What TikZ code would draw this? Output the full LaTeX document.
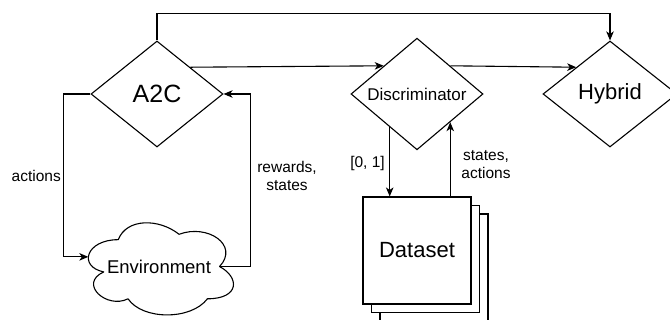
\documentclass[tikz,border=0pt]{standalone}
\usepackage{fontspec}
\setmainfont{Liberation Sans}
\usetikzlibrary{shapes.geometric,arrows.meta,calc}

\tikzset{
  shapeline/.style={draw=black, line width=1.1pt, line join=miter},
  decision/.style={diamond, shapeline, fill=white, inner sep=0pt,
                   minimum width=132pt, minimum height=106pt},
  sheet/.style={rectangle, shapeline, fill=white, inner sep=0pt,
                minimum width=108pt, minimum height=107pt},
  arr/.style={draw=black, line width=1.1pt,
              -{Stealth[length=9pt, width=7.5pt, inset=2.5pt]}},
  link/.style={draw=black, line width=1.1pt},
  lbl/.style={inner sep=0pt, font=\fontsize{15.5}{18}\selectfont, align=center}
}

\begin{document}
\begin{tikzpicture}[x=1pt, y=1pt]
\useasboundingbox (0,0) rectangle (670,320);

% decision nodes
\node[decision, font=\fontsize{25}{30}\selectfont] (A2C) at (157,226) {A2C};
\node[decision, font=\fontsize{17}{20}\selectfont] (Disc) at (417,226) {Discriminator};
\node[decision, minimum width=134pt, font=\fontsize{22}{26}\selectfont] (Hybrid) at (610,226) {Hybrid};

% stacked dataset sheets
\node[sheet] (Data3) at (434,52.5) {};
\node[sheet] (Data2) at (425.5,61) {};
\node[sheet, font=\fontsize{22}{26}\selectfont] (Data) at (417,69.5) {Dataset};

% environment cloud
\node[rectangle, inner sep=0pt, minimum width=162pt, minimum height=107.5pt,
      font=\fontsize{18.5}{22}\selectfont] (Env) at (159,53.25) {Environment};
\begin{scope}[shift={(Env.north west)}, x=162pt, y=-107.5pt]
  \draw[shapeline, line join=round]
    (0.25,0.25) .. controls (0.05,0.25) and (0,0.5) .. (0.16,0.55)
    .. controls (0,0.66) and (0.18,0.9) .. (0.31,0.8)
    .. controls (0.4,1) and (0.7,1) .. (0.8,0.8)
    .. controls (1,0.8) and (1,0.6) .. (0.875,0.5)
    .. controls (1,0.3) and (0.8,0.1) .. (0.625,0.2)
    .. controls (0.5,0.05) and (0.3,0.05) .. (0.25,0.25) -- cycle;
  \coordinate (envin) at (0.065,0.41);
  \coordinate (envout) at (0.875,0.5);
\end{scope}

% connectors
\draw[arr] (A2C.north) -- ++(0,27) -| (Hybrid.north);
\draw[arr] (A2C.north east) -- (Disc.north west);
\draw[arr] (Disc.north east) -- (Hybrid.north west);
\draw[arr] (A2C.west) -- ++(-27,0) |- (envin);
\draw[arr] (envout) -| ($(A2C.east)+(27,0)$) -- (A2C.east);
\coordinate (dq) at ($(Disc.south west)!0.18!(Disc.south)$);
\draw[arr] (dq) -- (dq |- Data.north);
\draw[arr] (Disc.south east |- Data.north) -- (Disc.south east);

% edge labels
\node[lbl, anchor=east] (lact) at (61,144) {actions};
\node[lbl] (lrew) at (287,144) {rewards,\\states};
\node[lbl] (lscore) at (367.5,157) {[0, 1]};
\node[lbl] (lsa) at (486,155) {states,\\actions};
\end{tikzpicture}
\end{document}
